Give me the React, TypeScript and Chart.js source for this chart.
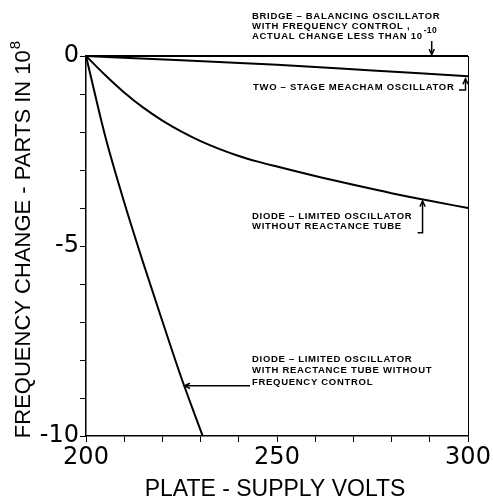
import React, { useEffect, useRef } from 'react';
import { Chart, registerables } from 'chart.js';

Chart.register(...registerables);

// ---- data ----
const bridgeVolts = [200, 300];
const bridgeChange = [0, 0];

const meachamVolts = [200, 225, 250, 275, 300];
const meachamChange = [0, -0.11, -0.23, -0.38, -0.53];

const diodeVolts = [200, 205, 210, 215, 220, 225, 230, 235, 240, 245, 250, 260, 270, 280, 290, 300];
const diodeChange = [0, -0.5, -0.96, -1.36, -1.7, -1.99, -2.24, -2.45, -2.63, -2.78, -2.91, -3.16, -3.39, -3.61, -3.81, -4.0];

const reactanceVolts = [200, 205, 210, 215, 220, 225, 230, 230.55];
const reactanceChange = [0, -2.1, -3.85, -5.45, -6.98, -8.48, -9.85, -10];

const xTickValues = [200, 250, 300];
const xTickLabels = ['200', '250', '300'];
const yTickValues = [0, -5, -10];
const yTickLabels = ['0', '-5', '-10'];

const xTitle = 'PLATE - SUPPLY VOLTS';
const yTitle = 'FREQUENCY CHANGE - PARTS IN 10';
const yTitleSup = '8';

const bridgeLabel = ['BRIDGE \u2013 BALANCING OSCILLATOR', 'WITH FREQUENCY CONTROL ,', 'ACTUAL CHANGE LESS THAN 10'];
const bridgeSup = '-10';
const meachamLabel = ['TWO \u2013 STAGE MEACHAM OSCILLATOR'];
const diodeLabel = ['DIODE \u2013 LIMITED OSCILLATOR', 'WITHOUT REACTANCE TUBE'];
const reactanceLabel = ['DIODE \u2013 LIMITED OSCILLATOR', 'WITH REACTANCE TUBE WITHOUT', 'FREQUENCY CONTROL'];

const toPts = (xs: number[], ys: number[]) => xs.map((x, i) => ({ x, y: ys[i] }));

const ANN_FONT = 'bold 9.5px "Liberation Sans", Arial, sans-serif';

function arrow(ctx: CanvasRenderingContext2D, pts: number[][]) {
  ctx.beginPath();
  ctx.moveTo(pts[0][0], pts[0][1]);
  for (let i = 1; i < pts.length; i++) ctx.lineTo(pts[i][0], pts[i][1]);
  ctx.stroke();
  const [x1, y1] = pts[pts.length - 2];
  const [x2, y2] = pts[pts.length - 1];
  const a = Math.atan2(y2 - y1, x2 - x1);
  const L = 6;
  ctx.beginPath();
  ctx.moveTo(x2 - L * Math.cos(a - 0.45), y2 - L * Math.sin(a - 0.45));
  ctx.lineTo(x2, y2);
  ctx.lineTo(x2 - L * Math.cos(a + 0.45), y2 - L * Math.sin(a + 0.45));
  ctx.stroke();
}

function lines(ctx: CanvasRenderingContext2D, texts: string[], x: number, y: number, dy: number) {
  texts.forEach((t, i) => ctx.fillText(t, x, y + i * dy));
}

const annotations = {
  id: 'annotations',
  afterDraw(chart: any) {
    const ctx: CanvasRenderingContext2D = chart.ctx;
    const ca = chart.chartArea;
    const xs = chart.scales.x;
    const ys = chart.scales.y;
    const px = (v: number) => xs.getPixelForValue(v);
    const py = (v: number) => ys.getPixelForValue(v);
    ctx.save();
    ctx.strokeStyle = '#000';
    ctx.fillStyle = '#000';

    // right frame line
    ctx.lineWidth = 1;
    ctx.beginPath();
    ctx.moveTo(ca.right + 0.5, py(0));
    ctx.lineTo(ca.right + 0.5, ca.bottom);
    ctx.stroke();

    // axis titles
    ctx.textBaseline = 'middle';
    ctx.font = '23px "Liberation Sans", Arial, sans-serif';
    ctx.textAlign = 'center';
    ctx.fillText(xTitle, (ca.left + ca.right) / 2 - 2, 490);

    ctx.save();
    ctx.translate(24, 240);
    ctx.rotate(-Math.PI / 2);
    ctx.font = '22px "Liberation Sans", Arial, sans-serif';
    const w1 = ctx.measureText(yTitle).width;
    ctx.font = '15px "Liberation Sans", Arial, sans-serif';
    const w2 = ctx.measureText(yTitleSup).width;
    const start = -(w1 + w2) / 2;
    ctx.textAlign = 'left';
    ctx.font = '22px "Liberation Sans", Arial, sans-serif';
    ctx.fillText(yTitle, start, 0);
    ctx.font = '15px "Liberation Sans", Arial, sans-serif';
    ctx.fillText(yTitleSup, start + w1 + 1, -8);
    ctx.restore();

    // annotation texts
    ctx.font = ANN_FONT;
    ctx.textAlign = 'left';
    (ctx as any).letterSpacing = '0.7px';
    lines(ctx, bridgeLabel, 252, 16, 10);
    const lastW = ctx.measureText(bridgeLabel[2]).width;
    lines(ctx, meachamLabel, 253, 87, 10);
    lines(ctx, diodeLabel, 252, 216, 10);
    lines(ctx, reactanceLabel, 252, 359, 11.7);
    ctx.font = 'bold 8.5px "Liberation Sans", Arial, sans-serif';
    (ctx as any).letterSpacing = '0.3px';
    ctx.fillText(bridgeSup, 252 + lastW + 1, 31);
    (ctx as any).letterSpacing = '0px';

    // arrows
    ctx.lineWidth = 1.5;
    arrow(ctx, [[px(290.5), 41], [px(290.5), py(0) - 1.5]]);
    arrow(ctx, [[ca.right - 9, 90], [ca.right - 2.5, 90], [ca.right - 2.5, py(-0.6)]]);
    arrow(ctx, [[px(286.8), 232.7], [px(288.1), 232.7], [px(288.1), py(-3.82)]]);
    arrow(ctx, [[250, py(-8.68)], [px(225.8), py(-8.68)]]);

    ctx.restore();
  },
};

export default function App() {
  const ref = useRef<HTMLCanvasElement>(null);
  useEffect(() => {
    if (!ref.current) return;
    const ds = (xs: number[], ys: number[]) => ({
      data: toPts(xs, ys),
      borderColor: '#000',
      backgroundColor: '#000',
      borderWidth: 2,
      pointRadius: 0,
      cubicInterpolationMode: 'monotone' as const,
      clip: 4,
    });
    const tickFont = { family: '"DejaVu Sans", sans-serif', size: 24 };
    const chart = new Chart(ref.current, {
      type: 'line',
      data: {
        datasets: [
          ds(bridgeVolts, bridgeChange),
          ds(meachamVolts, meachamChange),
          ds(diodeVolts, diodeChange),
          ds(reactanceVolts, reactanceChange),
        ],
      },
      options: {
        responsive: false,
        animation: false,
        devicePixelRatio: 1,
        layout: { padding: { top: 56, right: 25, left: 0, bottom: 0 } },
        plugins: { legend: { display: false }, tooltip: { enabled: false } },
        scales: {
          x: {
            type: 'linear',
            min: 200,
            max: 300,
            afterFit: (s: any) => { s.height = 63; },
            ticks: {
              stepSize: 10,
              autoSkip: false,
              maxRotation: 0,
              padding: 1,
              color: '#000',
              font: tickFont,
              callback: (v: any) => {
                const i = xTickValues.indexOf(Math.round(Number(v)));
                return i >= 0 ? xTickLabels[i] : '';
              },
            },
            grid: { drawOnChartArea: false, drawTicks: true, tickLength: 6, color: '#000', lineWidth: 1 },
            border: { display: true, color: '#000', width: 1.5 },
          },
          y: {
            type: 'linear',
            min: -10,
            max: 0,
            afterFit: (s: any) => { s.width = 86; },
            ticks: {
              stepSize: 1,
              autoSkip: false,
              padding: 1,
              color: '#000',
              font: tickFont,
              callback: (v: any) => {
                const i = yTickValues.indexOf(Math.round(Number(v)));
                return i >= 0 ? yTickLabels[i] : '';
              },
            },
            grid: { drawOnChartArea: false, drawTicks: true, tickLength: 6, color: '#000', lineWidth: 1 },
            border: { display: true, color: '#000', width: 1.5 },
          },
        },
      },
      plugins: [annotations],
    });
    return () => chart.destroy();
  }, []);
  return (
    <div style={{ position: 'fixed', left: 0, top: 0, width: 493, height: 499, background: '#fff' }}>
      <canvas ref={ref} width={493} height={499} />
    </div>
  );
}
